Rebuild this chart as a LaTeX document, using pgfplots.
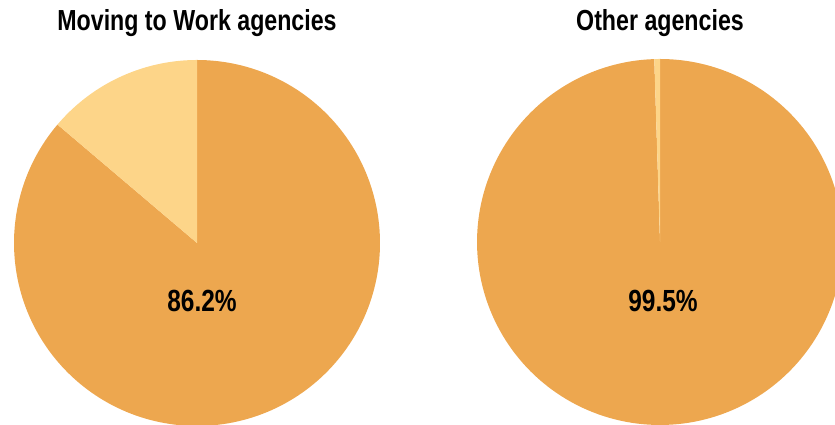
\documentclass[border=0pt]{standalone}
\usepackage{pgfplots}
\usepackage{pgfplotstable}
\pgfplotsset{compat=1.18}
\usepackage{fontspec}
\setmainfont{Liberation Sans}
\definecolor{mainc}{HTML}{EDA74F}
\definecolor{lightc}{HTML}{FDD589}
\newcommand{\cond}[2]{\scalebox{0.8}[1]{\fontsize{#1}{#1}\selectfont\bfseries #2}}
\pgfplotstableread{
group value cx cy
MTW 86.2 197 182
Other 99.5 660 183
}\piedata
\begin{document}
\begin{tikzpicture}
\pgfplotstablegetelem{0}{value}\of\piedata \let\va\pgfplotsretval
\pgfplotstablegetelem{1}{value}\of\piedata \let\vb\pgfplotsretval
\pgfmathsetmacro{\aa}{90+3.6*(100-\va)}
\pgfmathsetmacro{\ab}{90+3.6*(100-\vb)}
\begin{axis}[
  scale only axis, width=8.35cm, height=4.25cm,
  xmin=0, xmax=835, ymin=0, ymax=425,
  hide axis, clip=true,
]
% left pie
\addplot[draw=none, fill=mainc, domain=\aa:450, samples=200]
  ({197+183*cos(x)},{182+183*sin(x)}) -- (axis cs:197,182) -- cycle;
\addplot[draw=none, fill=lightc, domain=90:\aa, samples=60]
  ({197+183*cos(x)},{182+183*sin(x)}) -- (axis cs:197,182) -- cycle;
% right pie
\addplot[draw=none, fill=mainc, domain=\ab:450, samples=200]
  ({660+183*cos(x)},{183+183*sin(x)}) -- (axis cs:660,183) -- cycle;
\addplot[draw=none, fill=lightc, domain=90:\ab, samples=10]
  ({660+183*cos(x)},{183+183*sin(x)}) -- (axis cs:660,183) -- cycle;
\node at (axis cs:197,402) {\cond{8.25pt}{Moving to Work agencies}};
\node at (axis cs:660,402) {\cond{8.25pt}{Other agencies}};
\node at (axis cs:202,124) {\cond{8.7pt}{\va\%}};
\node at (axis cs:663,124) {\cond{8.7pt}{\vb\%}};
\end{axis}
\pgfresetboundingbox
\useasboundingbox (0,0) rectangle (8.35cm,4.25cm);
\end{tikzpicture}
\end{document}
